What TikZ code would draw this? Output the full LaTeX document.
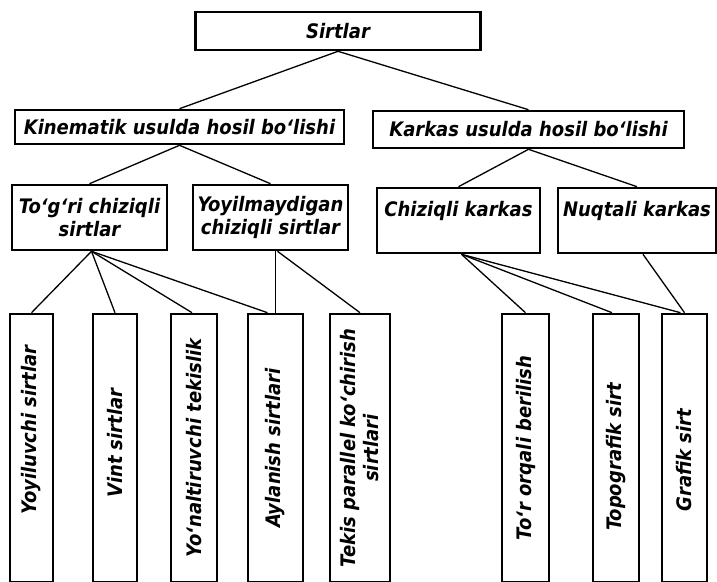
\documentclass[tikz,border=0pt]{standalone}
\usepackage{fontspec}
\setmainfont{DejaVu Sans Condensed}
\begin{document}
\begin{tikzpicture}[x=1pt,y=-1pt,
  box/.style={draw, line width=2.6pt, inner sep=0pt, align=center,
    font=\fontsize{20}{23}\selectfont\bfseries\itshape},
  vbox/.style={box, rotate=90, minimum width=268pt},
  link/.style={line width=1.3pt}]
\useasboundingbox (0,0) rectangle (717,581);
% level 0
\node[box, minimum width=285pt, minimum height=38pt] (top) at (338,31) {Sirtlar};
% level 1
\node[box, minimum width=329pt, minimum height=34pt] (kin) at (179.5,127) {Kinematik usulda hosil bo‘lishi};
\node[box, minimum width=311pt, minimum height=37pt] (kar) at (528.5,129.5) {Karkas usulda hosil bo‘lishi};
% level 2
\node[box, minimum width=155pt, minimum height=65pt] (tog) at (89.5,217.5) {To‘g‘ri chiziqli\\sirtlar};
\node[box, minimum width=155pt, minimum height=65pt] (yoy) at (270.5,217.5) {Yoyilmaydigan\\chiziqli sirtlar};
\node[box, minimum width=163pt, minimum height=65pt] (chz) at (458.5,220.5) {Chiziqli karkas\\\phantom{X}};
\node[box, minimum width=158pt, minimum height=65pt] (nuq) at (637,220.5) {Nuqtali karkas\\\phantom{X}};
% level 3 (vertical)
\node[vbox, minimum height=43pt] (b1) at (31.5,448) {\hspace*{36pt}Yoyiluvchi sirtlar};
\node[vbox, minimum height=44pt] (b2) at (115,448) {\hspace*{10pt}Vint sirtlar};
\node[vbox, minimum height=46pt] (b3) at (194,448) {Yo‘naltiruvchi tekislik};
\node[vbox, minimum height=55pt] (b4) at (275.5,448) {Aylanish sirtlari};
\node[vbox, minimum height=60pt] (b5) at (360,448) {Tekis parallel ko‘chirish\\sirtlari};
\node[vbox, minimum height=47pt] (b6) at (525.5,448) {To‘r orqali berilish};
\node[vbox, minimum height=46pt] (b7) at (616,448) {Topografik sirt\hspace*{18pt}};
\node[vbox, minimum height=45pt] (b8) at (684.5,448) {Grafik sirt\hspace*{24pt}};
% connectors
\draw[link] (top.south) -- (kin.north);
\draw[link] (top.south) -- (kar.north);
\draw[link] (kin.south) -- (tog.north);
\draw[link] (kin.south) -- (yoy.north);
\draw[link] (kar.south) -- (chz.north);
\draw[link] (kar.south) -- (nuq.north);
\draw[link] ([xshift=2pt]tog.south) -- (b1.east);
\draw[link] ([xshift=2pt]tog.south) -- (b2.east);
\draw[link] ([xshift=2pt]tog.south) -- ([xshift=-2pt]b3.east);
\draw[link] ([xshift=2pt]tog.south) -- ([xshift=-8pt]b4.east);
\draw[link] ([xshift=5pt]yoy.south) -- ([xshift=5pt]yoy.south |- b4.east);
\draw[link] ([xshift=7pt]yoy.south) -- (b5.east);
\draw[link] ([xshift=3pt]chz.south) -- (b6.east);
\draw[link] ([xshift=3pt]chz.south) -- ([xshift=-4pt]b7.east);
\draw[link] ([xshift=3pt]chz.south) -- ([xshift=-4pt]b8.east);
\draw[link] ([xshift=6pt]nuq.south) -- (b8.east);
\end{tikzpicture}
\end{document}
